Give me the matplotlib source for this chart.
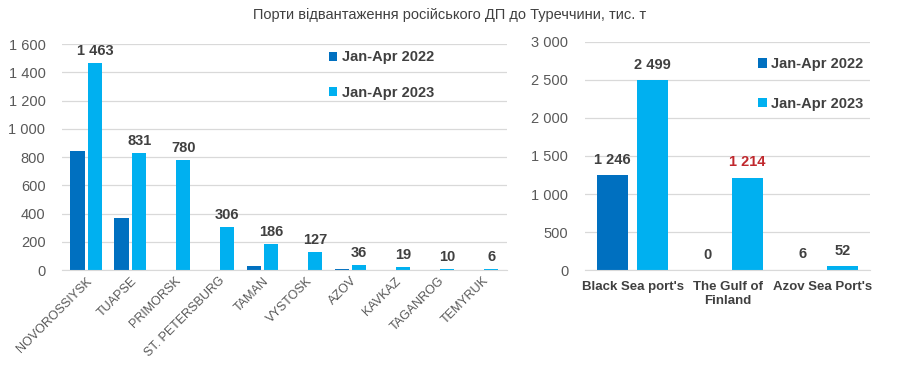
import numpy as np
import matplotlib.pyplot as plt
from matplotlib.ticker import FuncFormatter

# ports, Jan-Apr, thousand tonnes
ports = ["NOVOROSSIYSK", "TUAPSE", "PRIMORSK", "ST. PETERSBURG", "TAMAN",
         "VYSTOSK", "AZOV", "KAVKAZ", "TAGANROG", "TEMYRUK"]
ports_2022 = [845, 370, 0, 0, 30, 0, 6, 0, 0, 0]
ports_2023 = [1463, 831, 780, 306, 186, 127, 36, 19, 10, 6]

regions = ["Black Sea port's", "The Gulf of\nFinland", "Azov Sea Port's"]
regions_2022 = [1246, 0, 6]
regions_2023 = [2499, 1214, 52]

series = ["Jan-Apr 2022", "Jan-Apr 2023"]
title = "Порти відвантаження російського ДП до Туреччини, тис. т"

c22 = "#0070C0"
c23 = "#00B0F0"
grid_c = "#D9D9D9"
tick_c = "#595959"
lab_c = "#404040"

plt.rcParams["font.family"] = ["Liberation Sans", "DejaVu Sans"]


def space_fmt(v, pos=None):
    return f"{int(round(v)):,}".replace(",", " ")


def style_axis(ax, ymax, step):
    ax.set_ylim(0, ymax)
    ax.set_yticks(np.arange(0, ymax + 1, step))
    ax.yaxis.set_major_formatter(FuncFormatter(space_fmt))
    ax.grid(axis="y", color=grid_c, linewidth=0.9)
    ax.set_axisbelow(True)
    for s in ["top", "right", "left"]:
        ax.spines[s].set_visible(False)
    ax.spines["bottom"].set_color(grid_c)
    ax.tick_params(axis="y", length=0, labelsize=10.5, labelcolor=tick_c, pad=12)
    ax.tick_params(axis="x", length=0)


fig = plt.figure(figsize=(9, 3.67), dpi=100)
fig.text(0.5, 0.958, title, ha="center", va="center", fontsize=10.5,
         color="#404040")

# left chart: by port
ax1 = fig.add_axes([0.069, 0.264, 0.494, 0.616])
x = np.arange(len(ports))
w = 0.32
ax1.bar(x - 0.2, ports_2022, w, color=c22, label=series[0])
ax1.bar(x + 0.2, ports_2023, w, color=c23, label=series[1])
for xi, v in zip(x, ports_2023):
    ax1.text(xi + 0.2, v + 35, space_fmt(v), ha="center", va="bottom",
             fontsize=10.5, fontweight="bold", color=lab_c)
ax1.set_xlim(-0.55, len(ports) - 0.45)
ax1.set_xticks(x)
ax1.set_xticklabels(ports, rotation=45, ha="right", rotation_mode="anchor",
                    fontsize=9, color=tick_c)
style_axis(ax1, 1600, 200)
ax1.legend(loc="upper left", bbox_to_anchor=(0.57, 1.03), frameon=False,
           labelspacing=1.45, handlelength=0.6, handleheight=0.6,
           handletextpad=0.3, prop={"weight": "bold", "size": 10.5})
for t in ax1.get_legend().get_texts():
    t.set_color(lab_c)

# right chart: by sea basin
ax2 = fig.add_axes([0.65, 0.264, 0.317, 0.622])
x2 = np.arange(len(regions))
w2 = 0.33
ax2.bar(x2 - 0.21, regions_2022, w2, color=c22, label=series[0])
ax2.bar(x2 + 0.21, regions_2023, w2, color=c23, label=series[1])
for xi, v in zip(x2, regions_2022):
    ax2.text(xi - 0.21, v + 110, space_fmt(v), ha="center", va="bottom",
             fontsize=10.5, fontweight="bold", color=lab_c)
for i, (xi, v) in enumerate(zip(x2, regions_2023)):
    col = "#C0282D" if i == 1 else lab_c
    ax2.text(xi + 0.21, v + 110, space_fmt(v), ha="center", va="bottom",
             fontsize=10.5, fontweight="bold", color=col)
ax2.set_xlim(-0.5, len(regions) - 0.5)
ax2.set_xticks(x2)
ax2.set_xticklabels(regions, fontsize=9.5, fontweight="bold", color=lab_c)
style_axis(ax2, 3000, 500)
ax2.tick_params(axis="x", pad=8)
ax2.legend(loc="upper left", bbox_to_anchor=(0.56, 0.99), frameon=False,
           labelspacing=1.75, handlelength=0.6, handleheight=0.6,
           handletextpad=0.3, prop={"weight": "bold", "size": 10.5})
for t in ax2.get_legend().get_texts():
    t.set_color(lab_c)

fig.savefig("out.png", dpi=100)
